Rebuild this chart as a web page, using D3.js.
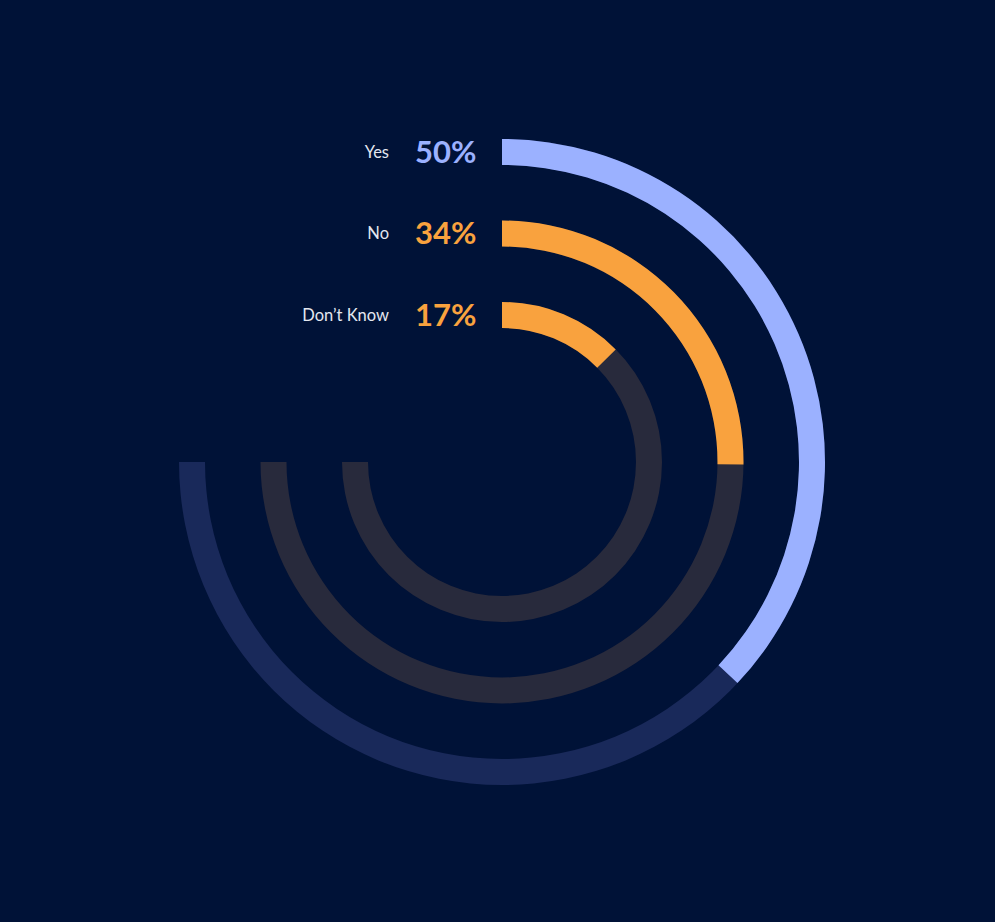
<!DOCTYPE html>
<html>
<head>
<meta charset="utf-8">
<script src="https://cdn.jsdelivr.net/npm/d3@7"></script>
<style>
  html, body { margin: 0; padding: 0; background: #001237; }
  svg { display: block; }
</style>
</head>
<body>
<svg id="chart" width="995" height="922"></svg>
<script>
// Survey answers, one ring per answer (outermost first)
const categories = ["Yes", "No", "Don’t Know"];
const values = [50, 34, 17];
const valueLabels = ["50%", "34%", "17%"];
const barColors = ["#9BB1FF", "#F9A23E", "#F9A23E"];
const trackColors = ["#19295A", "#282A3C", "#282A3C"];

const width = 995, height = 922;
const cx = 502, cy = 462;
const ringWidth = 26;

const svg = d3.select("#chart");
svg.append("rect").attr("width", width).attr("height", height).attr("fill", "#001237");

// Percentages sweep clockwise from 12 o'clock
const angle = d3.scaleLinear().domain([0, 100]).range([0, 0.74 * 2 * Math.PI]);
// Background tracks run three quarters of the way round
const trackEnd = 1.5 * Math.PI;

// Outer radius of each ring
const radius = d3.scalePoint().domain(categories).range([323, 160]);

const g = svg.append("g").attr("transform", `translate(${cx},${cy})`);
const arc = d3.arc();

const rows = categories.map((c, i) => ({
  cat: c, value: values[i], label: valueLabels[i],
  bar: barColors[i], track: trackColors[i],
  ro: radius(c), ri: radius(c) - ringWidth
}));

// Background tracks
g.selectAll("path.track").data(rows).join("path")
  .attr("class", "track")
  .attr("fill", d => d.track)
  .attr("d", d => arc({ innerRadius: d.ri, outerRadius: d.ro, startAngle: angle(0), endAngle: trackEnd }));

// Value arcs
g.selectAll("path.bar").data(rows).join("path")
  .attr("class", "bar")
  .attr("fill", d => d.bar)
  .attr("d", d => arc({ innerRadius: d.ri, outerRadius: d.ro, startAngle: angle(0), endAngle: angle(d.value) }));

// Labels to the left of each ring's start
const labels = svg.append("g");
rows.forEach(d => {
  const midY = cy - (d.ro + d.ri) / 2;
  labels.append("text")
    .attr("x", 389).attr("y", midY + 5.5)
    .attr("text-anchor", "end")
    .attr("font-family", "Lato, 'Open Sans', sans-serif")
    .attr("font-size", 16.5)
    .attr("fill", "#E4E7F0")
    .text(d.cat);
  labels.append("text")
    .attr("x", 415).attr("y", midY + 10.5)
    .attr("text-anchor", "start")
    .attr("font-family", "Lato, 'Open Sans', sans-serif")
    .attr("font-weight", 700)
    .attr("font-size", 31)
    .attr("fill", d.bar)
    .text(d.label);
});
</script>
</body>
</html>
